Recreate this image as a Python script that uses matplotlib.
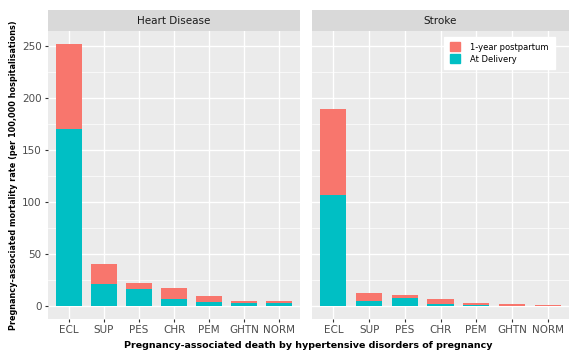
import numpy as np
import matplotlib
matplotlib.use("Agg")
import matplotlib.pyplot as plt
from matplotlib.patches import Patch

# -------------------------------
# Datos
# -------------------------------
categorias = ["ECL", "SUP", "PES", "CHR", "PEM", "GHTN", "NORM"]
paneles = ["Heart Disease", "Stroke"]

# tasa al parto y total (parto + 1 año postparto)
corazon_parto = [170.0, 21.0, 16.0, 6.4, 3.8, 2.6, 2.5]
corazon_total = [252.0, 40.0, 22.5, 17.7, 9.3, 5.2, 5.0]
ictus_parto = [106.7, 5.2, 7.4, 1.6, 0.8, 0.3, 0.3]
ictus_total = [189.8, 12.5, 10.6, 6.7, 2.6, 1.5, 1.0]

y_ticks = [0, 50, 100, 150, 200, 250]

col_post = "#F8766D"
col_parto = "#00BFC4"

W, H = 583, 355
fig = plt.figure(figsize=(W / 100, H / 100), dpi=100)


def caja(x0, y0, x1, y1):
    # coordenadas en pixeles (origen arriba-izquierda) -> fracción de figura
    return [x0 / W, 1 - y1 / H, (x1 - x0) / W, (y1 - y0) / H]


datos = [(corazon_parto, corazon_total), (ictus_parto, ictus_total)]
limites_x = [(48, 300), (312, 569)]

for i, (nombre, (parto, total)) in enumerate(zip(paneles, datos)):
    x0, x1 = limites_x[i]
    ax = fig.add_axes(caja(x0, 31, x1, 319))
    ax.set_facecolor("#EBEBEB")
    x = np.arange(len(categorias))
    post = np.array(total) - np.array(parto)
    ax.bar(x, parto, width=0.73, color=col_parto, zorder=3)
    ax.bar(x, post, bottom=parto, width=0.73, color=col_post, zorder=3)

    ax.set_xlim(-0.6, 6.6)
    ax.set_ylim(-12.6, 264.6)
    ax.set_xticks(x)
    ax.set_xticklabels(categorias, fontsize=7.5, color="#4D4D4D")
    ax.set_yticks(y_ticks)
    ax.set_yticks([25, 75, 125, 175, 225], minor=True)
    ax.tick_params(axis="both", which="major", length=2.5, color="#333333", pad=2)
    ax.tick_params(axis="y", which="minor", length=0)
    if i == 0:
        ax.set_yticklabels([str(v) for v in y_ticks], fontsize=7.5, color="#4D4D4D")
    else:
        ax.set_yticklabels([])
        ax.tick_params(axis="y", which="major", length=0)
    ax.grid(True, which="major", color="white", linewidth=1.0, zorder=0)
    ax.grid(True, which="minor", axis="y", color="white", linewidth=0.5, zorder=0)
    for s in ax.spines.values():
        s.set_visible(False)

    # tira del panel
    tira = fig.add_axes(caja(x0, 10, x1, 31))
    tira.set_facecolor("#D9D9D9")
    tira.set_xticks([])
    tira.set_yticks([])
    for s in tira.spines.values():
        s.set_visible(False)
    tira.text(0.5, 0.5, nombre, ha="center", va="center", fontsize=7.5, color="#1A1A1A",
              transform=tira.transAxes)

    if i == 1:
        handles = [Patch(color=col_post, label="1-year postpartum"),
                   Patch(color=col_parto, label="At Delivery")]
        ax.legend(handles=handles, loc="upper right", bbox_to_anchor=(0.96, 0.995),
                  fontsize=6, frameon=True, fancybox=False, framealpha=1,
                  edgecolor="white", handlelength=1.2, handleheight=1.2,
                  borderpad=0.7, labelspacing=0.35, handletextpad=1.2)

fig.text(14 / W, 1 - 175 / H,
         "Pregnancy-associated mortality rate (per 100,000 hospitalisations)",
         rotation=90, ha="center", va="center", fontsize=5.9, fontweight="bold")
fig.text(308 / W, 1 - 345 / H,
         "Pregnancy-associated death by hypertensive disorders of pregnancy",
         ha="center", va="center", fontsize=6.8, fontweight="bold")

fig.savefig("out.png", dpi=100)
